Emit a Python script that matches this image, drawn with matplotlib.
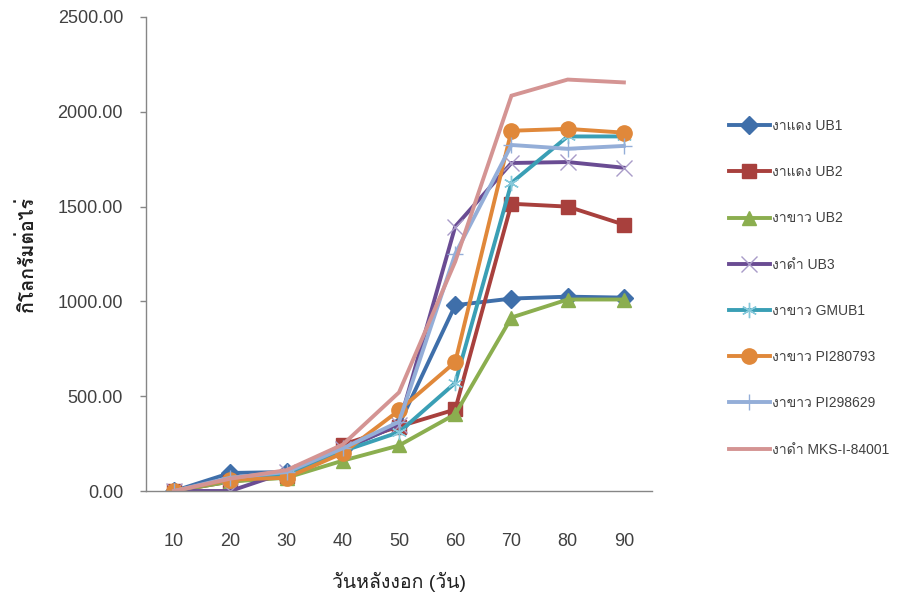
import matplotlib
matplotlib.use("Agg")
import matplotlib.pyplot as plt
from matplotlib import font_manager
from matplotlib.ft2font import FT2Font

# --- data -------------------------------------------------------------
days = ["10", "20", "30", "40", "50", "60", "70", "80", "90"]

red_ub1 = [0, 95, 100, 220, 350, 980, 1015, 1025, 1020]
red_ub2 = [0, 50, 80, 245, 340, 430, 1515, 1500, 1405]
white_ub2 = [0, 50, 70, 160, 240, 405, 915, 1010, 1010]
black_ub3 = [0, 0, 100, 220, 350, 1395, 1730, 1735, 1705]
white_gmub1 = [0, 60, 85, 210, 310, 570, 1625, 1870, 1870]
white_pi280793 = [0, 60, 70, 200, 425, 680, 1900, 1910, 1890]
white_pi298629 = [0, 70, 100, 225, 365, 1250, 1825, 1805, 1820]
black_mks = [0, 65, 110, 245, 520, 1210, 2085, 2170, 2155]

labels = ["งาแดง UB1", "งาแดง UB2", "งาขาว UB2", "งาดำ UB3",
          "งาขาว GMUB1", "งาขาว PI280793", "งาขาว PI298629", "งาดำ MKS-I-84001"]
y_ticks = [0, 500, 1000, 1500, 2000, 2500]


# --- fonts: Latin face first, Thai fallback --------------------------------
def find_thai_family():
    preferred = []
    others = []
    for f in font_manager.fontManager.ttflist:
        try:
            cmap = FT2Font(f.fname).get_charmap()
        except Exception:
            continue
        if 0x0E07 in cmap and 0x0E14 in cmap:
            if "Thai" in f.name or "Loma" in f.name or "Tahoma" in f.name:
                preferred.append(f.name)
            else:
                others.append(f.name)
    for group in (preferred, others):
        if group:
            return group[0]
    return None


installed = {f.name for f in font_manager.fontManager.ttflist}
thai = find_thai_family()
families = []
for name in ("Liberation Sans Narrow", "Liberation Sans"):
    if name in installed:
        families.append(name)
        break
if thai:
    families.append(thai)
families.append("DejaVu Sans")
plt.rcParams["font.family"] = families

# --- figure -----------------------------------------------------------
fig = plt.figure(figsize=(8.99, 6.02), dpi=100)
ax = fig.add_axes([146 / 899, 1 - 491 / 602, 506 / 899, 474 / 602])

series = [
    (red_ub1, "#3F6FAA", dict(marker="D", markersize=9, markeredgecolor="#3F6FAA")),
    (red_ub2, "#A8403D", dict(marker="s", markersize=10, markeredgecolor="#A8403D")),
    (white_ub2, "#8BAE4F", dict(marker="^", markersize=10, markeredgecolor="#8BAE4F")),
    (black_ub3, "#6A4C93", dict(marker="x", markersize=11, markeredgewidth=1.0,
                                markeredgecolor="#A99BC8")),
    (white_gmub1, "#3A9FB5", dict(marker=(6, 2, 0), markersize=11, markeredgewidth=1.0,
                                  markeredgecolor="#86C8DA")),
    (white_pi280793, "#E0883A", dict(marker="o", markersize=11, markeredgecolor="#E0883A")),
    (white_pi298629, "#94AED8", dict(marker="+", markersize=12, markeredgewidth=1.0,
                                     markeredgecolor="#94AED8")),
    (black_mks, "#D49493", dict(marker=None)),
]

x = list(range(len(days)))
for (vals, color, mk), lab in zip(series, labels):
    ax.plot(x, vals, color=color, linewidth=2.8, label=lab,
            markerfacecolor=color, solid_joinstyle="miter", **mk)

ax.set_xlim(-0.5, len(days) - 0.5)
ax.set_ylim(0, 2500)
ax.set_xticks(x)
ax.set_xticklabels(days)
ax.set_yticks(y_ticks)
ax.set_yticklabels([f"{v:.2f}" for v in y_ticks])

for side in ("top", "right"):
    ax.spines[side].set_visible(False)
for side in ("left", "bottom"):
    ax.spines[side].set_color("#868686")
    ax.spines[side].set_linewidth(1.0)

ax.tick_params(axis="y", direction="out", length=4.5, width=1.0, color="#868686",
               labelsize=13, labelcolor="#404040", pad=12)
ax.tick_params(axis="x", length=0, labelsize=13, labelcolor="#404040", pad=30)

ax.set_ylabel("กิโลกรัมต่อไร่", fontsize=14, fontweight="bold", color="#202020")
ax.yaxis.set_label_coords(-0.215, 0.5)
ax.set_xlabel("วันหลังงอก (วัน)", fontsize=14, color="#202020")
ax.xaxis.set_label_coords(0.5, -0.17)

leg = fig.legend(loc="upper left", bbox_to_anchor=(729 / 899, 1 - 119 / 602),
                 frameon=False, fontsize=10, handlelength=2.95, handletextpad=0.12,
                 labelspacing=2.32, borderpad=0, borderaxespad=0, numpoints=1)
for t in leg.get_texts():
    t.set_color("#404040")

fig.savefig("out.png", dpi=100)
